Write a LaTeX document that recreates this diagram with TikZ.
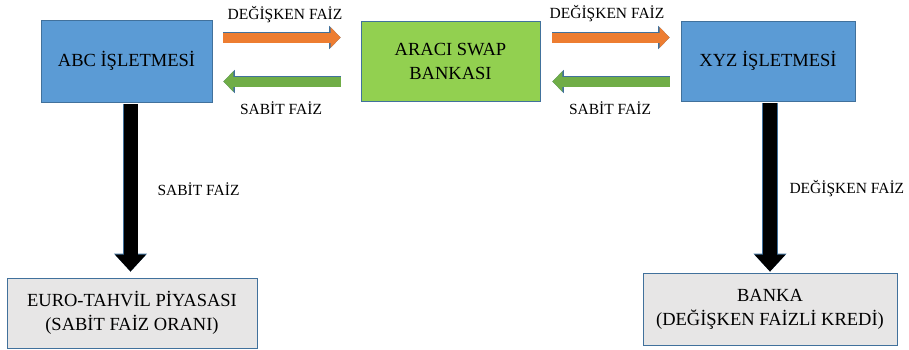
\documentclass[tikz,border=0pt]{standalone}
\usepackage{fontspec}
\setmainfont{Liberation Serif}
\usetikzlibrary{arrows.meta}
\definecolor{kutumavi}{HTML}{5B9BD5}
\definecolor{kutuyesil}{HTML}{92D050}
\definecolor{kutugri}{HTML}{E7E6E6}
\definecolor{kenar}{HTML}{41719C}
\definecolor{turuncu}{HTML}{ED7D31}
\definecolor{koyuyesil}{HTML}{70AD47}
\begin{document}
\begin{tikzpicture}[x=1pt,y=-1pt,
kutu/.style={draw=kenar,line width=0.8pt,inner sep=0pt,align=center,
 font=\fontsize{18.5}{24}\selectfont},
etiket/.style={font=\fontsize{15.5}{18}\selectfont},
yatayok/.style={line width=10pt,-{Triangle[width=20pt,length=10pt]},
 preaction={draw=kenar,line width=11.4pt,-{Triangle[width=22.8pt,length=11.4pt]}}},
dikeyok/.style={draw=black,line width=14pt,-{Triangle[width=30pt,length=17pt]},
 preaction={draw=kenar,line width=15.4pt,-{Triangle[width=32pt,length=18pt]}}}]
\useasboundingbox (0,0) rectangle (909,349);
% Kutular
\node[kutu,fill=kutumavi,minimum width=171pt,minimum height=82pt] (abc) at (126.5,61) {ABC İŞLETMESİ};
\node[kutu,fill=kutuyesil,minimum width=179pt,minimum height=80pt] (swap) at (450.5,61) {ARACI SWAP\\BANKASI};
\node[kutu,fill=kutumavi,minimum width=174pt,minimum height=80pt] (xyz) at (768,61) {XYZ İŞLETMESİ};
\node[kutu,fill=kutugri,minimum width=250pt,minimum height=70pt] (euro) at (132,313) {EURO-TAHVİL PİYASASI\\(SABİT FAİZ ORANI)};
\node[kutu,fill=kutugri,minimum width=254pt,minimum height=72pt] (banka) at (770,309) {BANKA\\(DEĞİŞKEN FAİZLİ KREDİ)};
% Yatay oklar
\draw[yatayok,draw=turuncu,shorten <=11pt,shorten >=20pt] ([yshift=23.5pt]abc.east) -- ([yshift=23.5pt]abc.east -| swap.west);
\draw[yatayok,draw=koyuyesil,shorten <=20pt,shorten >=11pt] ([yshift=-20.5pt]swap.west) -- ([yshift=-20.5pt]swap.west -| abc.east);
\draw[yatayok,draw=turuncu,shorten <=12pt,shorten >=11pt] ([yshift=23.5pt]swap.east) -- ([yshift=23.5pt]swap.east -| xyz.west);
\draw[yatayok,draw=koyuyesil,shorten <=11pt,shorten >=12pt] ([yshift=-20.5pt]xyz.west) -- ([yshift=-20.5pt]xyz.west -| swap.east);
% Dikey oklar
\draw[dikeyok,shorten <=2pt,shorten >=6pt] ([xshift=4pt]abc.south) -- ([xshift=4pt]abc.south |- euro.north);
\draw[dikeyok,shorten <=2pt,shorten >=1pt] ([xshift=2pt]xyz.south) -- ([xshift=2pt]xyz.south |- banka.north);
% Etiketler
\node[etiket] (d1) at (285,15) {DEĞİŞKEN FAİZ};
\node[etiket] (s1) at (281,108) {SABİT FAİZ};
\node[etiket] (d2) at (607,14) {DEĞİŞKEN FAİZ};
\node[etiket] (s2) at (610,108) {SABİT FAİZ};
\node[etiket,anchor=west] (s3) at (154,189) {SABİT FAİZ};
\node[etiket,anchor=west] (d3) at (786,189) {DEĞİŞKEN FAİZ};
\end{tikzpicture}
\end{document}
